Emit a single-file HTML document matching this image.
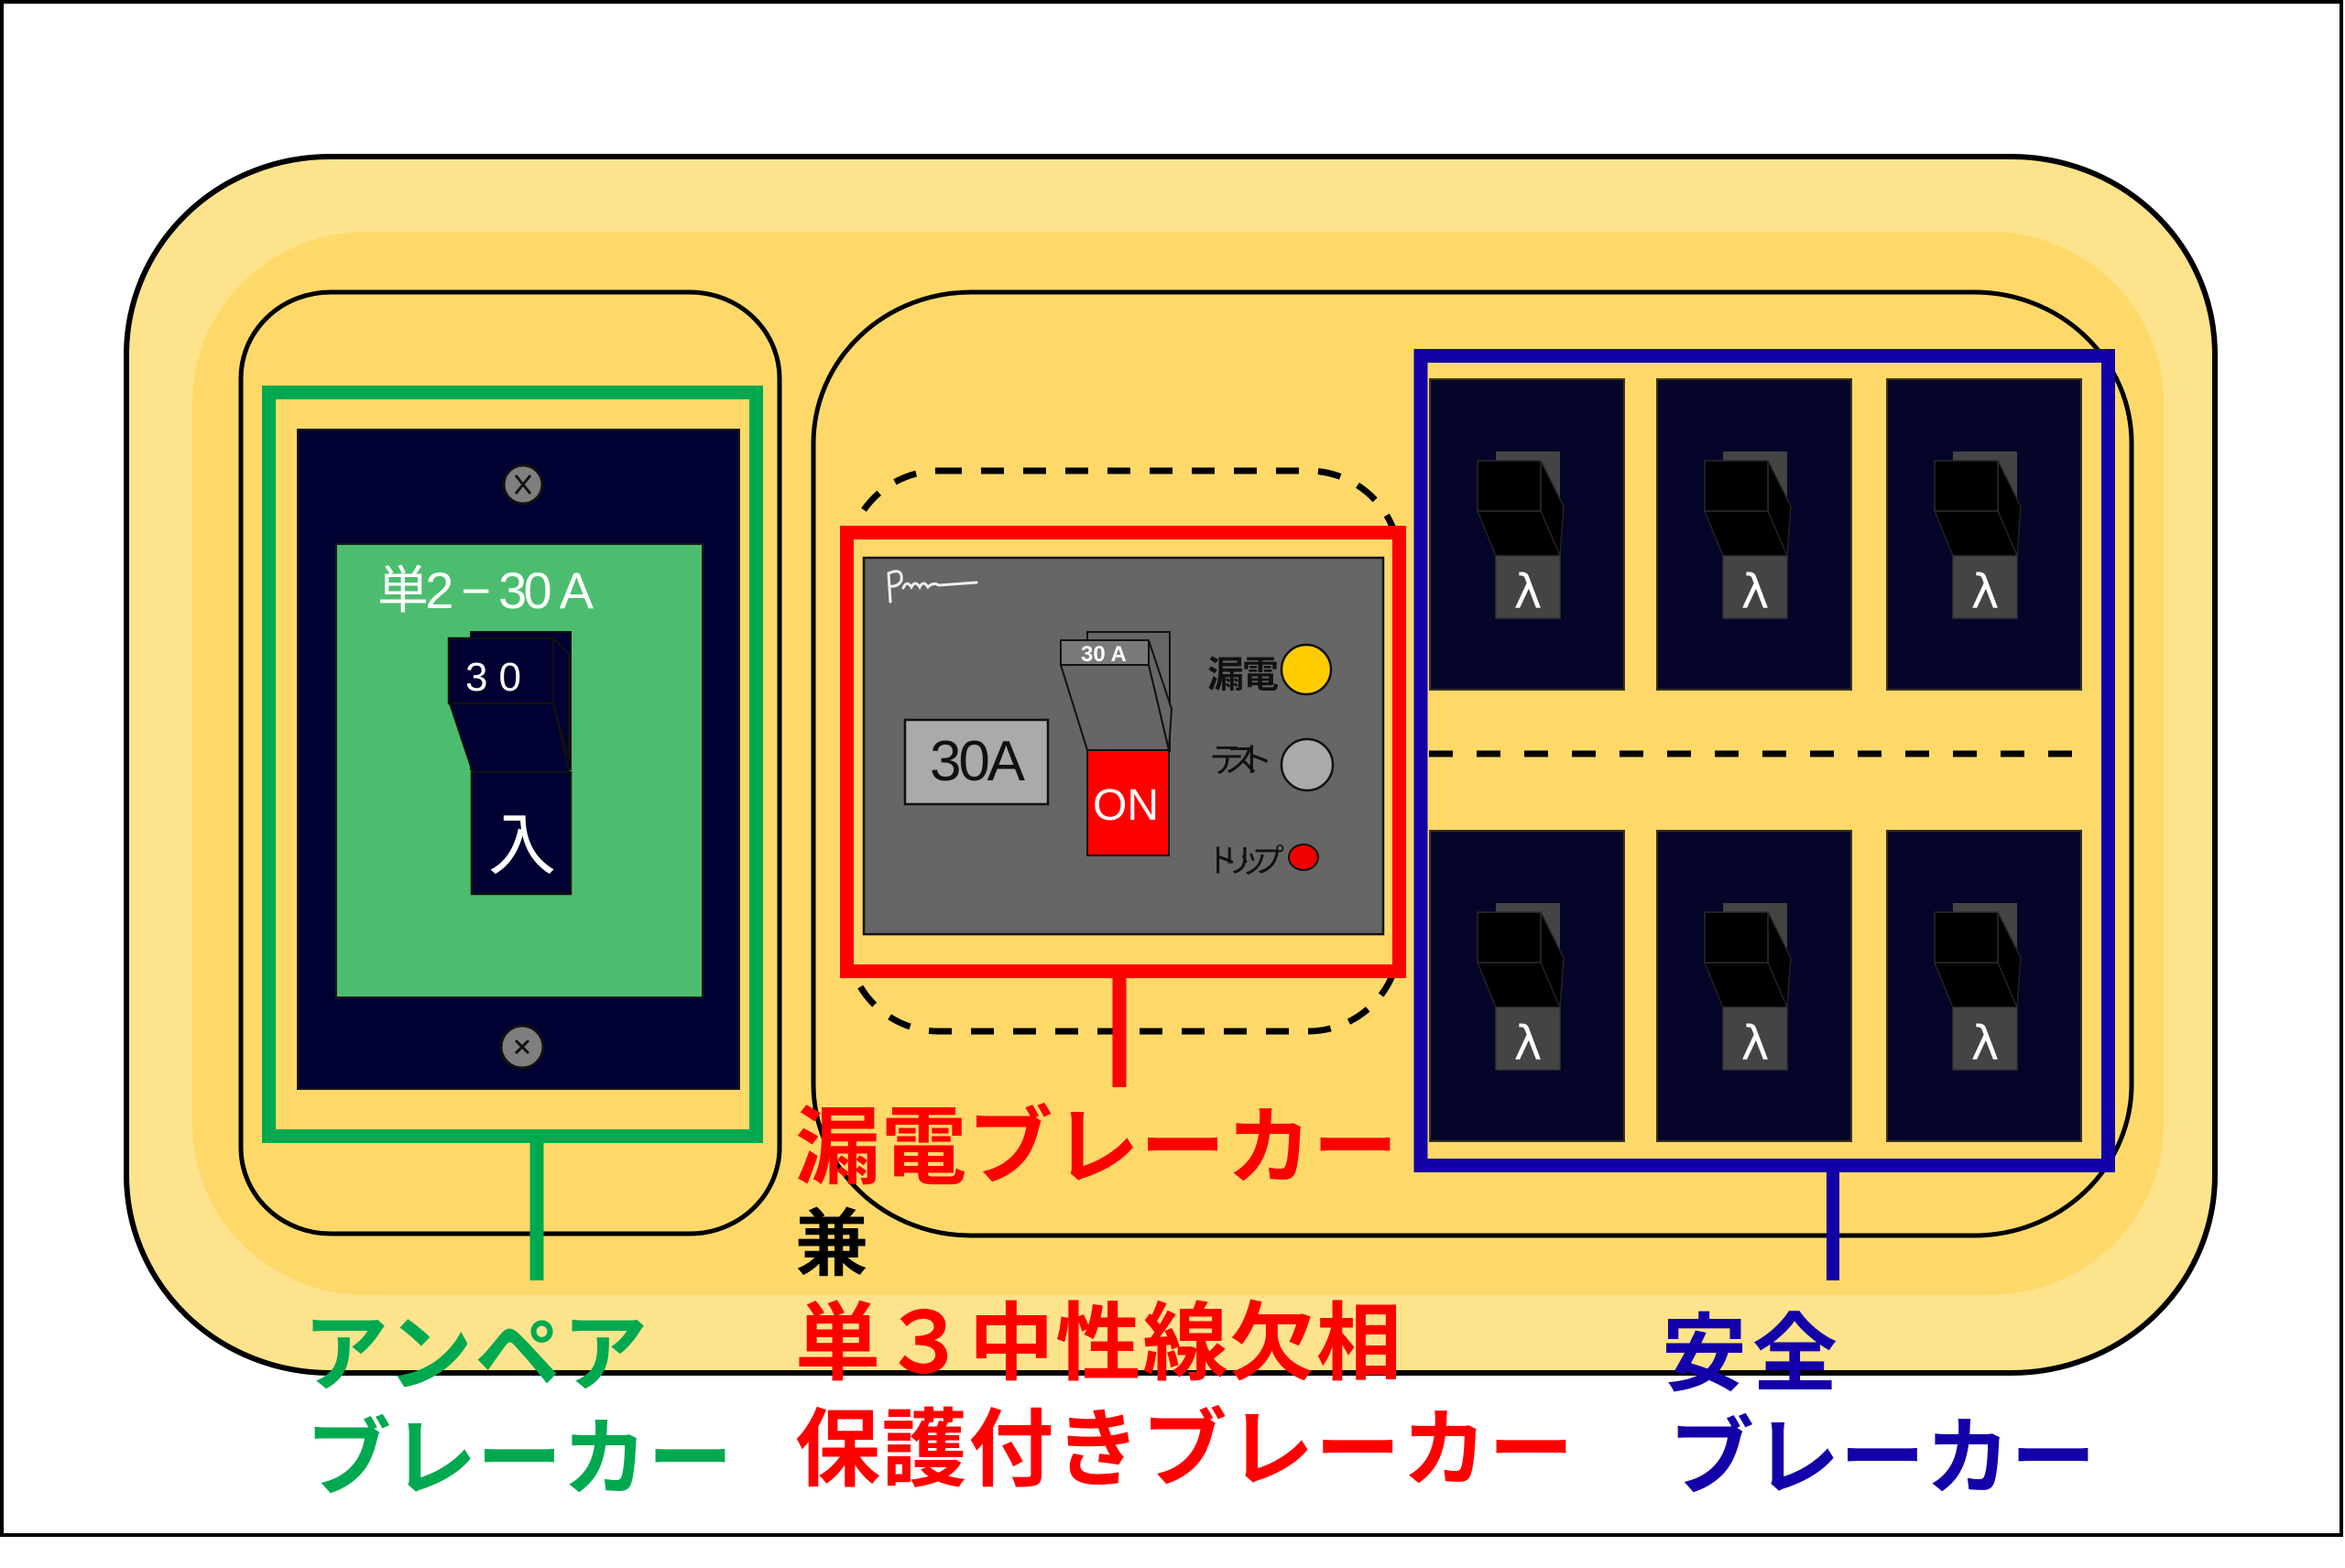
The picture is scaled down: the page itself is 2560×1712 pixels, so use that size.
<!DOCTYPE html>
<html><head><meta charset="utf-8"><style>
html,body{margin:0;padding:0;background:#fff;}
svg{display:block;}
.lbl{font-family:"Liberation Sans","Noto Sans CJK JP",sans-serif;font-weight:700;}
.hw{font-family:"Liberation Sans","Noto Sans CJK JP",sans-serif;}
</style></head><body>
<svg width="2560" height="1712" viewBox="0 0 2560 1712" xmlns="http://www.w3.org/2000/svg">
<rect x="0" y="0" width="2560" height="1712" fill="#fff"/>
<rect x="2" y="2" width="2554" height="1674" fill="none" stroke="#000" stroke-width="4"/>

<!-- body -->
<rect x="138" y="171" width="2280" height="1328" rx="222" ry="216" fill="#FEE38D" stroke="#000" stroke-width="6"/>
<rect x="210" y="253" width="2152" height="1161" rx="190" ry="186" fill="#FED96A"/>

<!-- housings -->
<rect x="263" y="319" width="588" height="1028" rx="98" ry="94" fill="none" stroke="#000" stroke-width="5"/>
<rect x="888" y="319" width="1439" height="1030" rx="172" ry="165" fill="none" stroke="#000" stroke-width="5"/>

<!-- ampere breaker -->
<rect x="293.5" y="428.5" width="532" height="812" fill="none" stroke="#00A94F" stroke-width="15"/>
<line x1="586" y1="1240" x2="586" y2="1398" stroke="#00A94F" stroke-width="15"/>
<rect x="325" y="469" width="482" height="720" fill="#000033" stroke="#1a1a1a" stroke-width="2"/>
<rect x="367" y="594" width="400" height="495" fill="#4CBD6F" stroke="#1a1a1a" stroke-width="2"/>
<circle cx="571" cy="529" r="21" fill="#7f7f7f" stroke="#111" stroke-width="3"/>
<path d="M563,519 L579,539 M579,519 L563,539" stroke="#111" stroke-width="3"/>
<circle cx="570" cy="1143" r="23" fill="#7f7f7f" stroke="#111" stroke-width="3"/>
<path d="M563,1136 L577,1150 M577,1136 L563,1150" stroke="#111" stroke-width="3"/>
<text x="412" y="664" class="hw" font-size="56" fill="#fff" textLength="236">単2 − 30 A</text>
<!-- amp switch -->
<rect x="514" y="690" width="109" height="150" fill="#000033" stroke="#111" stroke-width="2"/>
<polygon points="604,697 621,714 621,829 604,768" fill="#000033" stroke="#111" stroke-width="2"/>
<polygon points="491,768 604,768 621,843 516,843" fill="#000033" stroke="#111" stroke-width="2"/>
<rect x="490" y="697" width="114" height="71" fill="#000033" stroke="#111" stroke-width="2.5"/>
<text x="508" y="754" class="hw" font-size="44" fill="#fff" letter-spacing="12">30</text>
<rect x="515" y="843" width="108" height="133" fill="#000033" stroke="#111" stroke-width="2.5"/>
<text x="570" y="948" class="lbl" font-size="74" font-weight="400" fill="#fff" text-anchor="middle" style="font-weight:400">入</text>

<!-- leakage breaker -->
<rect x="925" y="514" width="603" height="612" rx="100" ry="100" fill="none" stroke="#000" stroke-width="7" stroke-dasharray="25 21"/>
<rect x="924.5" y="581.5" width="603" height="479" fill="#FED96A" stroke="#FF0000" stroke-width="15"/>
<line x1="1222" y1="1060" x2="1222" y2="1187" stroke="#FF0000" stroke-width="15"/>
<rect x="943" y="609" width="567" height="411" fill="#666" stroke="#111" stroke-width="2.5"/>
<path d="M972,657 L970,626 Q986,619 984,634 Q980,641 972,640 M986,642 q4,-9 9,-1 q4,-8 9,0 q4,-8 9,0 q6,-6 12,-2 L1066,636" fill="none" stroke="#eee" stroke-width="3" stroke-linecap="round"/>
<rect x="988" y="786" width="156" height="92" fill="#AAAAAA" stroke="#111" stroke-width="2.5"/>
<text x="1015" y="852" class="hw" font-size="62" fill="#111" textLength="104">30A</text>
<!-- leakage switch -->
<rect x="1187" y="690" width="90" height="130" fill="#666" stroke="#111" stroke-width="2"/>
<polygon points="1254,699 1279,774 1276,819 1254,726" fill="#666" stroke="#111" stroke-width="2"/>
<polygon points="1158,726 1254,726 1276,819 1187,819" fill="#666" stroke="#111" stroke-width="2"/>
<rect x="1158" y="699" width="96" height="27" fill="#7a7a7a" stroke="#111" stroke-width="2"/>
<text x="1180" y="722" class="hw" font-size="24" fill="#fff" font-weight="700">30 A</text>
<rect x="1187" y="819" width="89" height="115" fill="#FF0000" stroke="#111" stroke-width="2"/>
<text x="1229" y="895" class="hw" font-size="48" fill="#fff" text-anchor="middle">ON</text>
<text x="1318" y="750" class="lbl" font-size="40" fill="#111" textLength="78">漏電</text>
<circle cx="1426" cy="731" r="27" fill="#FFCC00" stroke="#111" stroke-width="2.5"/>
<text x="1320" y="843" class="lbl" font-size="38" fill="#111" textLength="70" style="font-weight:400">テスト</text>
<circle cx="1427" cy="835" r="28" fill="#AAAAAA" stroke="#111" stroke-width="2.5"/>
<text x="1316" y="952" class="lbl" font-size="36" fill="#111" textLength="86" style="font-weight:400">トリップ</text>
<ellipse cx="1423" cy="936" rx="16" ry="14" fill="#EE0000" stroke="#111" stroke-width="2"/>

<!-- safety breakers -->
<defs>
<g id="mod">
<rect x="0" y="0" width="212" height="339" fill="#05052A" stroke="#3a3418" stroke-width="2"/>
<rect x="72" y="79" width="70" height="182" fill="#444"/>
<polygon points="121,89 146,139 142,193 121,144" fill="#000" stroke="#222" stroke-width="1.5"/>
<polygon points="52,144 121,144 142,193 72,193" fill="#000" stroke="#222" stroke-width="1.5"/>
<rect x="52" y="89" width="69" height="55" fill="#000" stroke="#2a2a2a" stroke-width="1.5"/>
<rect x="72" y="193" width="70" height="68" fill="#444" stroke="#333" stroke-width="1.5"/>
<text x="107" y="250" font-family="'DejaVu Sans',sans-serif" font-size="52" fill="#fff" text-anchor="middle">λ</text>
</g>
</defs>
<use href="#mod" x="1561" y="414"/>
<use href="#mod" x="1809" y="414"/>
<use href="#mod" x="2060" y="414"/>
<use href="#mod" x="1561" y="907"/>
<use href="#mod" x="1809" y="907"/>
<use href="#mod" x="2060" y="907"/>
<line x1="1560" y1="823" x2="2284" y2="823" stroke="#000" stroke-width="7" stroke-dasharray="26 26"/>
<rect x="1551" y="388.5" width="750.5" height="884" fill="none" stroke="#1400A8" stroke-width="15"/>
<line x1="2001" y1="1272" x2="2001" y2="1398" stroke="#1400A8" stroke-width="14"/>

<!-- labels -->
<text x="868" y="1285" class="lbl" font-size="93" fill="#FF0000" textLength="658">漏電ブレーカー</text>
<text x="868" y="1386" class="lbl" font-size="80" fill="#000">兼</text>
<text x="868" y="1499" class="lbl" font-size="93" fill="#FF0000" textLength="662">単３中性線欠相</text>
<text x="868" y="1615" class="lbl" font-size="93" fill="#FF0000" textLength="850">保護付きブレーカー</text>
<text x="331" y="1511" class="lbl" font-size="93" fill="#00A94F" textLength="376">アンペア</text>
<text x="334" y="1625" class="lbl" font-size="93" fill="#00A94F" textLength="466">ブレーカー</text>
<text x="1814" y="1511" class="lbl" font-size="93" fill="#1400A8" textLength="192">安全</text>
<text x="1822" y="1624" class="lbl" font-size="93" fill="#1400A8" textLength="466">ブレーカー</text>
</svg>
</body></html>
